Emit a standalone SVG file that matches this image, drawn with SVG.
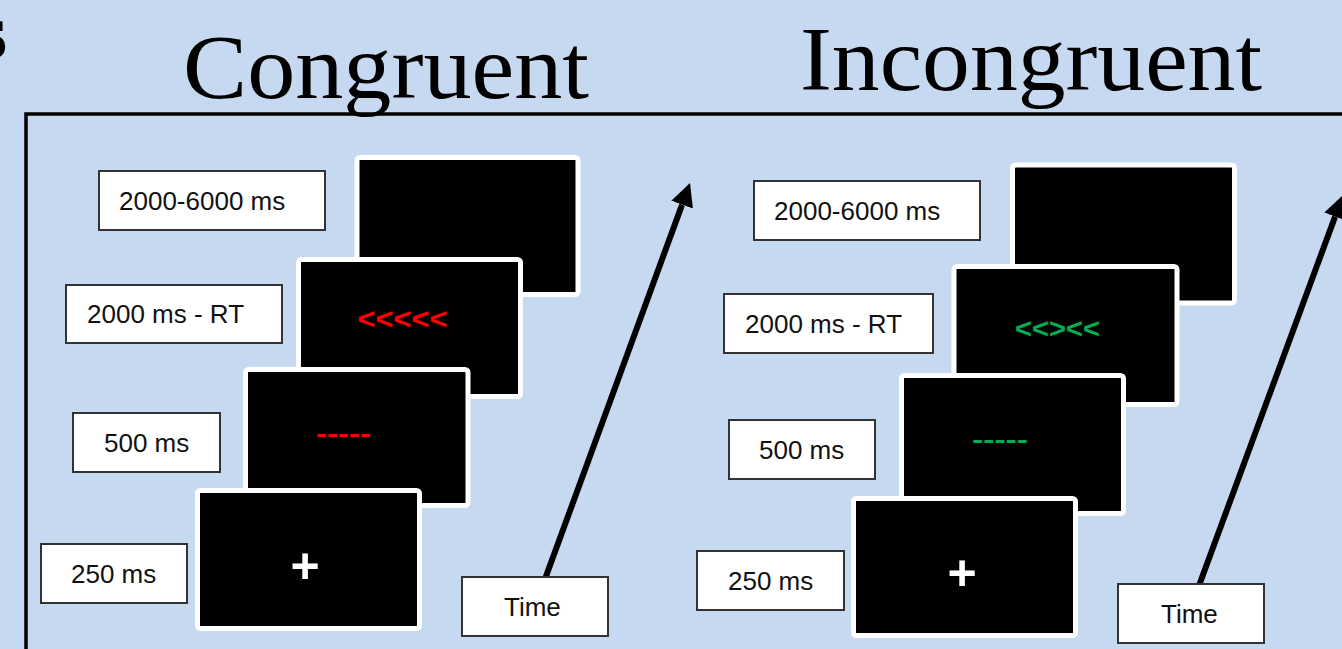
<svg xmlns="http://www.w3.org/2000/svg" width="1342" height="649" viewBox="0 0 1342 649">
  <style>
    .title { font-family: "Liberation Serif", "DejaVu Serif", serif; font-size: 90px; fill: #000; }
    .lbl rect { fill: #fff; stroke: #333; stroke-width: 2; }
    .lbl text { font-family: "Liberation Sans", Arial, sans-serif; font-size: 26px; fill: #111; }
    .scr rect { fill: #000; stroke: #fff; stroke-width: 5; }
    .stim { font-family: "Liberation Sans", Arial, sans-serif; font-weight: bold; text-anchor: middle; }
    .red { fill: #ff0000; }
    .green { fill: #00b050; }
    .plus { fill: #fff; font-size: 50px; }
    .conn line { stroke: #000; stroke-width: 6; marker-end: url(#head); }
  </style>
  <defs>
    <marker id="head" markerUnits="userSpaceOnUse" markerWidth="24" markerHeight="24" refX="0" refY="11.5" orient="auto">
      <path d="M0,0 L23,11.5 L0,23 z" fill="#000"/>
    </marker>
  </defs>
  <rect x="0" y="0" width="1342" height="649" fill="#c6d9f1"/>
  <text x="-24" y="58" font-family="Liberation Serif, serif" font-weight="bold" font-size="80" fill="#000">s</text>
  <path d="M26,649 V114 H1342" fill="none" stroke="#000" stroke-width="3.5"/>
  <text class="title" x="183" y="98" textLength="406" lengthAdjust="spacingAndGlyphs">Congruent</text>
  <text class="title" x="800" y="90" textLength="462" lengthAdjust="spacingAndGlyphs">Incongruent</text>

  <g id="connectors" class="conn">
    <line x1="535.5" y1="605" x2="682.1" y2="204.6"/>
    <line x1="1190" y1="610" x2="1335.1" y2="216.6"/>
  </g>

  <!-- Congruent screens -->
  <g id="c-screen1" class="scr"><rect x="357" y="157.5" width="221" height="137" rx="3"/></g>
  <g id="c-screen2" class="scr"><rect x="298.5" y="259.5" width="222" height="137" rx="3"/>
    <text class="stim red" x="402.5" y="329" font-size="30" textLength="90" lengthAdjust="spacingAndGlyphs">&lt;&lt;&lt;&lt;&lt;</text></g>
  <g id="c-screen3" class="scr"><rect x="245.5" y="369.5" width="222.5" height="136" rx="3"/>
    <text class="stim red" x="343.5" y="442" font-size="26" textLength="55" lengthAdjust="spacingAndGlyphs">-----</text></g>
  <g id="c-screen4" class="scr"><rect x="197.5" y="490.5" width="222" height="138" rx="3"/>
    <text class="stim plus" x="305" y="583">+</text></g>

  <g id="c-lbl1" class="lbl"><rect x="99" y="171" width="226" height="59"/><text x="119" y="210">2000-6000 ms</text></g>
  <g id="c-lbl2" class="lbl"><rect x="66" y="285" width="216" height="58"/><text x="87" y="323">2000 ms - RT</text></g>
  <g id="c-lbl3" class="lbl"><rect x="73" y="413" width="147" height="59"/><text x="104" y="451.5">500 ms</text></g>
  <g id="c-lbl4" class="lbl"><rect x="41" y="544" width="146" height="59"/><text x="71" y="582.5">250 ms</text></g>
  <g id="c-time" class="lbl"><rect x="462" y="577" width="146" height="59"/><text x="504" y="615.5">Time</text></g>

  <!-- Incongruent screens -->
  <g id="i-screen1" class="scr"><rect x="1012.5" y="165" width="222" height="138" rx="3"/></g>
  <g id="i-screen2" class="scr"><rect x="954" y="266.5" width="223" height="138" rx="3"/>
    <text class="stim green" x="1057.5" y="338" font-size="28" textLength="85" lengthAdjust="spacingAndGlyphs">&lt;&lt;&gt;&lt;&lt;</text></g>
  <g id="i-screen3" class="scr"><rect x="901.5" y="375.5" width="222" height="138" rx="3"/>
    <text class="stim green" x="1000" y="448" font-size="26" textLength="56" lengthAdjust="spacingAndGlyphs">-----</text></g>
  <g id="i-screen4" class="scr"><rect x="853.5" y="498.5" width="222" height="137" rx="3"/>
    <text class="stim plus" x="962" y="590">+</text></g>

  <g id="i-lbl1" class="lbl"><rect x="754" y="181" width="226" height="59"/><text x="774" y="219.5">2000-6000 ms</text></g>
  <g id="i-lbl2" class="lbl"><rect x="724" y="294" width="209" height="59"/><text x="745" y="332.5">2000 ms - RT</text></g>
  <g id="i-lbl3" class="lbl"><rect x="729" y="420" width="146" height="59"/><text x="759" y="458.5">500 ms</text></g>
  <g id="i-lbl4" class="lbl"><rect x="697" y="551" width="147" height="59"/><text x="728" y="589.5">250 ms</text></g>
  <g id="i-time" class="lbl"><rect x="1118" y="584" width="146" height="59"/><text x="1161" y="622.5">Time</text></g>
</svg>
